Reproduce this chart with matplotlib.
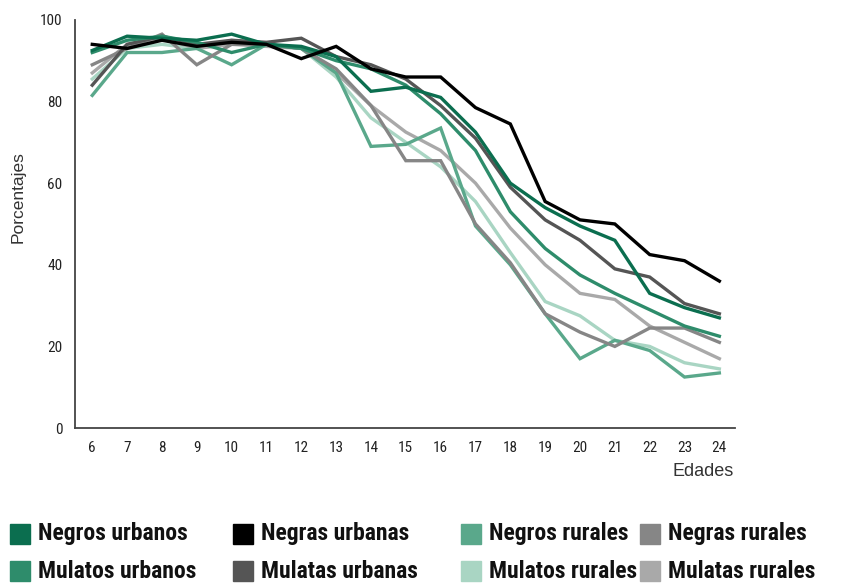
import matplotlib
matplotlib.use('Agg')
import matplotlib.pyplot as plt
from matplotlib import font_manager

edades = list(range(6, 25))

negros_urbanos = [92.5, 96, 95.5, 95, 96.5, 94, 93.5, 91, 82.5, 83.5, 81, 72.5, 60, 54, 49.5, 46, 33, 29.5, 27]
negras_urbanas = [94, 93, 95, 93.5, 94.5, 94, 90.5, 93.5, 88, 86, 86, 78.5, 74.5, 55.5, 51, 50, 42.5, 41, 36]
negros_rurales = [81.5, 92, 92, 93, 89, 94, 93, 87, 69, 69.5, 73.5, 49.5, 40, 28, 17, 21.5, 19, 12.5, 13.5]
negras_rurales = [89, 93, 96.5, 89, 94, 94, 93, 88, 79, 65.5, 65.5, 50, 40.5, 28, 23.5, 20, 24.5, 24.5, 21]
mulatos_urbanos = [92, 95, 96, 94.5, 92, 94, 93, 90, 88, 84, 77, 68, 53, 44, 37.5, 33, 29, 25, 22.5]
mulatas_urbanas = [84, 94, 96, 94, 95, 94.5, 95.5, 91, 89, 85.5, 79, 71, 59, 51, 46, 39, 37, 30.5, 28]
mulatos_rurales = [85.5, 93, 94, 93, 95, 94, 93, 86, 76, 70, 64, 55.5, 43, 31, 27.5, 21.5, 20, 16, 14.5]
mulatas_rurales = [87, 94, 95.5, 93, 94, 93.5, 93, 87, 79, 72.5, 68, 60, 49, 40, 33, 31.5, 25, 21, 17]

nombres = ['Negros urbanos', 'Negras urbanas', 'Negros rurales', 'Negras rurales',
           'Mulatos urbanos', 'Mulatas urbanas', 'Mulatos rurales', 'Mulatas rurales']
series = [negros_urbanos, negras_urbanas, negros_rurales, negras_rurales,
          mulatos_urbanos, mulatas_urbanas, mulatos_rurales, mulatas_rurales]
colores = ['#0b6e4f', '#000000', '#5aa88b', '#868686',
           '#2e8c6b', '#555555', '#a9d5c3', '#a9a9a9']

# narrow font if there is one, otherwise plain sans
nombres_fuentes = set(f.name for f in font_manager.fontManager.ttflist)
estrecha = 'DejaVu Sans'
for f in ['Liberation Sans Narrow', 'Arial Narrow', 'DejaVu Sans Condensed', 'Roboto Condensed']:
    if f in nombres_fuentes:
        estrecha = f
        break

# draw order: light lines first, dark on top
orden = [6, 7, 2, 3, 5, 4, 0, 1]

fig = plt.figure(figsize=(8.41, 5.84), dpi=100)
ax = fig.add_axes([0.089, 0.267, 0.785, 0.699])

for i in orden:
    ax.plot(edades, series[i], color=colores[i], lw=2.4, solid_joinstyle='miter')

ax.set_xlim(5.5, 24.45)
ax.set_ylim(0, 100)
ax.set_xticks(edades)
ax.set_yticks([0, 20, 40, 60, 80, 100])
ax.tick_params(length=0, labelsize=11, colors='#222222', pad=9)
for lab in ax.get_xticklabels() + ax.get_yticklabels():
    lab.set_family(estrecha)
    lab.set_stretch('condensed')
for s in ['top', 'right']:
    ax.spines[s].set_visible(False)
for s in ['left', 'bottom']:
    ax.spines[s].set_color('#444444')
    ax.spines[s].set_linewidth(1.3)

ax.set_ylabel('Porcentajes', fontsize=12.5, color='#333333', family='Liberation Sans')
ax.yaxis.set_label_coords(-0.074, 0.566)
fig.text(0.872, 0.192, 'Edades', fontsize=13, color='#333333', family='Liberation Sans',
         ha='right', va='center')

# legend, row by row like the original
xs = [0.012, 0.277, 0.548, 0.761]
ys = [0.086, 0.022]
for k in range(8):
    fila, col = k // 4, k % 4
    fig.patches.append(plt.Rectangle((xs[col], ys[fila] - 0.017), 0.024, 0.034,
                                     transform=fig.transFigure, color=colores[k]))
    fig.text(xs[col] + 0.033, ys[fila], nombres[k], fontsize=17,
             fontweight='bold', family=estrecha, stretch='condensed',
             va='center', ha='left', color='#111111')

fig.savefig('out.png', dpi=100)
